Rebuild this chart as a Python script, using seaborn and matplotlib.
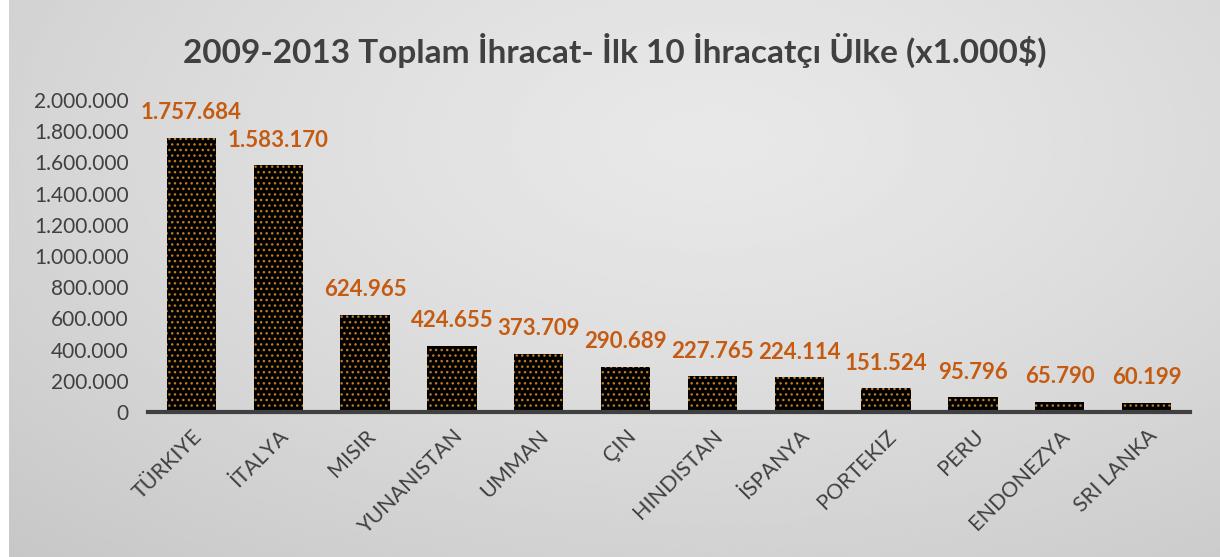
import numpy as np
import pandas as pd
import matplotlib
matplotlib.use("Agg")
import matplotlib.pyplot as plt
import seaborn as sns
from matplotlib.ticker import FuncFormatter

# Data (x1.000 $)
countries = ["TÜRKIYE", "İTALYA", "MISIR", "YUNANISTAN", "UMMAN", "ÇIN",
             "HINDISTAN", "İSPANYA", "PORTEKIZ", "PERU", "ENDONEZYA", "SRI LANKA"]
exports = [1757684, 1583170, 624965, 424655, 373709, 290689,
           227765, 224114, 151524, 95796, 65790, 60199]
y_ticks = [0, 200000, 400000, 600000, 800000, 1000000, 1200000,
           1400000, 1600000, 1800000, 2000000]

title = "2009-2013 Toplam İhracat- İlk 10 İhracatçı Ülke (x1.000$)"


def tr_fmt(v):
    # Turkish thousands separator: dots
    return f"{int(round(v)):,}".replace(",", ".")


sns.set_theme(style="white")
plt.rcParams["font.family"] = ["Lato", "DejaVu Sans"]
plt.rcParams["hatch.linewidth"] = 1.0

df = pd.DataFrame({"country": countries, "value": exports})

fig = plt.figure(figsize=(12.2, 5.57), dpi=100)
fig.patch.set_facecolor("white")

# gradient background (light centre, darker edges)
bg = fig.add_axes([9 / 1220, 0, 1 - 9 / 1220, 1], zorder=0)
yy, xx = np.mgrid[0:1:300j, 0:1:600j]
r = np.sqrt(((xx - 0.58) / 1.0) ** 2 + ((yy - 0.25) / 1.2) ** 2)
shade = 0.91 - 0.16 * np.clip(r, 0, 1) ** 1.3
bg.imshow(shade, cmap="gray", vmin=0, vmax=1, aspect="auto",
          interpolation="bicubic", extent=[0, 1, 1, 0])
bg.axis("off")

ax = fig.add_axes([148 / 1220, 1 - 412 / 557, (1190 - 148) / 1220, (412 - 100) / 557],
                  zorder=1)
ax.set_facecolor("none")

sns.barplot(data=df, x="country", y="value", ax=ax, color="black",
            width=0.57, edgecolor="#c07a1c", linewidth=0, hatch="...")
for p in ax.patches:
    p.set_facecolor("black")

ax.set_ylim(0, 2000000)
ax.set_xlim(-0.5, len(countries) - 0.5)
ax.set_yticks(y_ticks)
ax.yaxis.set_major_formatter(FuncFormatter(lambda v, _: tr_fmt(v)))
ax.tick_params(axis="y", labelsize=15, labelcolor="#404040", length=0, pad=14)
ax.tick_params(axis="x", labelsize=15.5, labelcolor="#404040", length=0, pad=10)
plt.setp(ax.get_xticklabels(), rotation=45, ha="right", rotation_mode="anchor")
ax.set_xlabel("")
ax.set_ylabel("")

for side in ["top", "right", "left"]:
    ax.spines[side].set_visible(False)
ax.spines["bottom"].set_color("#404040")
ax.spines["bottom"].set_linewidth(3)

for i, v in enumerate(exports):
    ax.annotate(tr_fmt(v), (i, v), xytext=(0, 18), textcoords="offset points",
                ha="center", va="center", fontsize=16, fontweight="bold",
                color="#c55a11")

fig.text(0.5 * (178 + 1052) / 1220, 1 - 50 / 557, title, ha="center", va="center",
         fontsize=24, fontweight="bold", color="#404040")

fig.savefig("out.png", dpi=100)
